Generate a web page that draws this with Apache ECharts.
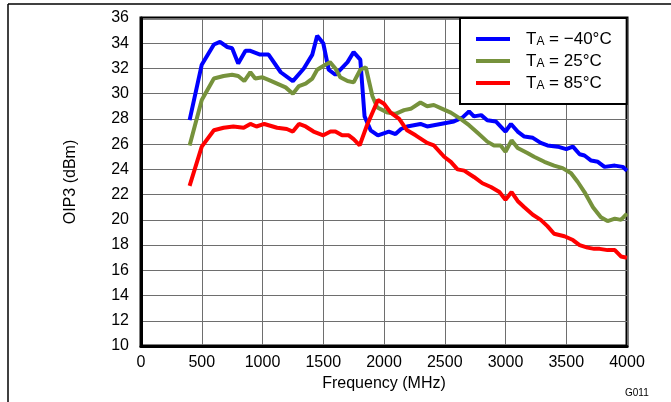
<!DOCTYPE html>
<html><head><meta charset="utf-8">
<script src="https://cdn.jsdelivr.net/npm/echarts@6/dist/echarts.min.js"></script>
<style>html,body{margin:0;padding:0;background:#fff}#c{width:671px;height:402px}</style>
</head><body><div id="c"></div>
<script>
var xTicks = [0,500,1000,1500,2000,2500,3000,3500,4000];
var yTicks = [10,12,14,16,18,20,22,24,26,28,30,32,34,36];
var seriesNames = ['TA = \u221240\u00B0C','TA = 25\u00B0C','TA = 85\u00B0C'];
var legendTemps = ['\u221240\u00B0C','25\u00B0C','85\u00B0C'];

var freqM40 = [400,500,600,650,710,750,800,860,900,980,1050,1150,1250,1340,1410,1450,1500,1545,1600,1700,1750,1805,1840,1890,1950,2040,2095,2140,2190,2300,2355,2410,2520,2575,2645,2700,2740,2800,2850,2920,3000,3045,3100,3155,3225,3290,3345,3430,3500,3555,3610,3650,3705,3760,3815,3900,3965,4000];
var oipM40 = [27.9,32.3,33.9,34.1,33.7,33.6,32.4,33.4,33.4,33.1,33.1,31.7,31.0,32.0,33.1,34.6,34.0,31.9,31.5,32.5,33.3,32.7,28.2,27.1,26.7,27.0,26.8,27.2,27.4,27.6,27.4,27.5,27.7,27.8,28.1,28.6,28.2,28.3,27.9,27.8,27.0,27.6,27.0,26.6,26.5,26.1,25.9,25.8,25.6,25.8,25.2,25.1,24.7,24.6,24.2,24.3,24.2,23.9];

var freq25 = [400,500,600,680,750,800,850,900,940,1000,1050,1120,1190,1250,1300,1355,1410,1450,1500,1555,1600,1640,1700,1750,1805,1850,1905,1945,2030,2095,2165,2220,2300,2355,2410,2480,2550,2630,2700,2770,2850,2905,2960,3000,3050,3100,3180,3235,3320,3400,3470,3540,3595,3650,3720,3785,3840,3900,3950,4000];
var oip25 = [25.9,29.5,31.2,31.4,31.5,31.4,31.0,31.7,31.2,31.3,31.1,30.8,30.5,30.0,30.6,30.8,31.2,31.9,32.2,32.5,32.0,31.3,31.0,30.9,31.9,32.1,29.8,28.9,28.5,28.4,28.7,28.8,29.3,29.0,29.1,28.8,28.5,28.0,27.5,26.9,26.2,25.9,25.9,25.4,26.3,25.7,25.3,25.0,24.6,24.3,24.1,23.7,23.0,22.2,21.0,20.2,19.9,20.1,20.0,20.5];

var freq85 = [400,500,600,680,760,845,900,950,1015,1120,1200,1250,1300,1355,1420,1500,1560,1600,1655,1710,1750,1800,1860,1950,2000,2055,2125,2190,2260,2355,2410,2495,2550,2605,2660,2740,2810,2880,2950,3000,3050,3100,3155,3225,3290,3345,3400,3485,3555,3610,3675,3730,3775,3840,3900,3950,4000];
var oip85 = [22.7,25.8,27.1,27.3,27.4,27.3,27.6,27.4,27.6,27.3,27.2,27.0,27.6,27.4,27.0,26.7,27.0,27.0,26.7,26.7,26.4,25.9,27.5,29.5,29.2,28.5,28.0,27.1,26.7,26.1,25.9,25.0,24.6,24.0,23.9,23.4,22.9,22.6,22.2,21.6,22.2,21.5,21.0,20.4,20.0,19.5,18.9,18.7,18.4,18.0,17.8,17.7,17.7,17.6,17.6,17.1,17.0];

function pairs(xs, ys){ return xs.map(function(x,i){ return [x, ys[i]]; }); }
var colors = ['#0000FF','#76923C','#FF0000'];
var dataSets = [pairs(freqM40,oipM40), pairs(freq25,oip25), pairs(freq85,oip85)];

var font = 'Liberation Sans, Arial, sans-serif';
var chart = echarts.init(document.getElementById('c'), null, {renderer:'canvas'});
chart.setOption({
  animation: false,
  backgroundColor: '#fff',
  grid: {left:141, right:44, top:18, bottom:56, show:true, borderColor:'#000', borderWidth:3, backgroundColor:'transparent'},
  xAxis: {
    type:'value', min:xTicks[0], max:xTicks[xTicks.length-1], interval:500,
    name:'Frequency (MHz)', nameLocation:'middle', nameGap:30,
    nameTextStyle:{fontFamily:font, fontSize:16, color:'#000'},
    axisLine:{show:true, lineStyle:{color:'#000', width:3}},
    axisTick:{show:false},
    axisLabel:{fontFamily:font, fontSize:16, color:'#000', margin:9, formatter:function(v){ return String(v); }},
    splitLine:{show:true, lineStyle:{color:'#6e6e6e', width:1}}
  },
  yAxis: {
    type:'value', min:yTicks[0], max:yTicks[yTicks.length-1], interval:2,
    name:'OIP3 (dBm)', nameLocation:'middle', nameGap:62, nameRotate:90,
    nameTextStyle:{fontFamily:font, fontSize:16, color:'#000'},
    axisLine:{show:true, lineStyle:{color:'#000', width:3}},
    axisTick:{show:false},
    axisLabel:{fontFamily:font, fontSize:16, color:'#000', margin:12, formatter:function(v){ return String(v); }},
    splitLine:{show:true, lineStyle:{color:'#6e6e6e', width:1}}
  },
  legend: {
    orient:'vertical', left:460, top:18, z:10,
    backgroundColor:'#fff', borderColor:'#000', borderWidth:2,
    padding:[12,15,12,16], itemGap:4, icon:'rect', itemWidth:34, itemHeight:4,
    data: seriesNames,
    formatter: function(name){ var i = seriesNames.indexOf(name); return '{t|T}{s|A}{t| = ' + legendTemps[i] + '}'; },
    textStyle:{
      padding:[0,0,0,11],
      rich:{
        t:{fontFamily:font, fontSize:17, color:'#000', lineHeight:18},
        s:{fontFamily:font, fontSize:12, color:'#000', lineHeight:18, padding:[6,0,0,0]}
      }
    }
  },
  graphic: [
    {type:'line', shape:{x1:8, y1:4, x2:671, y2:4}, style:{stroke:'#000', lineWidth:1.5}},
    {type:'line', shape:{x1:8, y1:4, x2:8, y2:402}, style:{stroke:'#000', lineWidth:1.5}},
    {type:'text', left:625, top:388, style:{text:'G011', font:'10px Liberation Sans, Arial, sans-serif', fill:'#000'}}
  ],
  series: seriesNames.map(function(n,i){
    return {name:n, type:'line', data:dataSets[i], showSymbol:false, symbol:'none',
      lineStyle:{color:colors[i], width:4}, itemStyle:{color:colors[i]}, z:3};
  })
});
</script></body></html>
